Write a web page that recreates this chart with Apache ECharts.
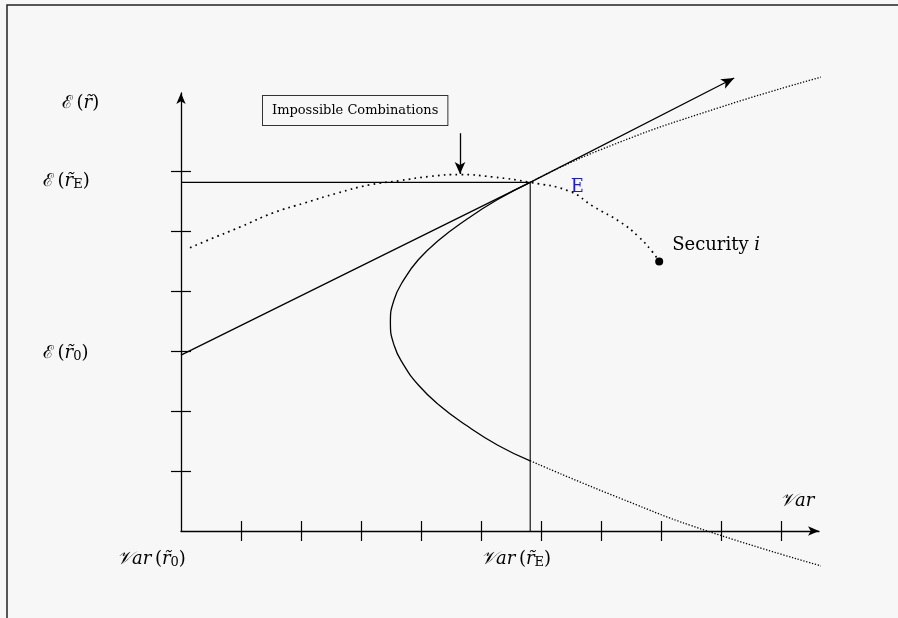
<!DOCTYPE html>
<html>
<head>
<meta charset="utf-8">
<title>Efficient frontier</title>
<script src="https://cdn.jsdelivr.net/npm/echarts@6/dist/echarts.min.js"></script>
<style>
  html, body { margin: 0; padding: 0; background: #f7f7f7; }
  #chart { width: 898px; height: 618px; }
</style>
</head>
<body>
<div id="chart"></div>
<script>
// axis ticks (one unit = one tick step)
var xTicks = [1, 2, 3, 4, 5, 6, 7, 8, 9, 10];
var yTicks = [1, 2, 3, 4, 5, 6];

// frontier, solid part (from E round the vertex and down)
var frontX = [5.82, 5.27, 4.74, 4.30, 3.955, 3.71, 3.55, 3.49, 3.55, 3.71, 3.96, 4.30, 4.74, 5.28, 5.82];
var frontY = [5.81, 5.52, 5.18, 4.85, 4.52, 4.18, 3.85, 3.48, 3.10, 2.77, 2.43, 2.10, 1.77, 1.43, 1.17];
// frontier, dotted upper continuation past E
var upperX = [5.82, 6.98, 8.98, 10.98];
var upperY = [5.81, 6.35, 7.06, 7.65];
// frontier, dotted lower continuation
var lowerX = [5.82, 7.32, 8.77, 10.98];
var lowerY = [1.17, 0.545, 0.0, -0.67];

// combinations of E and security i (dotted)
var comboX = [0.15, 0.43, 0.995, 1.53, 2.07, 2.60, 3.15, 3.65, 4.15, 4.65, 5.20, 5.82, 6.48, 6.87, 7.32, 7.62, 7.85, 7.97];
var comboY = [4.72, 4.84, 5.07, 5.30, 5.47, 5.63, 5.77, 5.84, 5.91, 5.94, 5.90, 5.81, 5.66, 5.41, 5.15, 4.91, 4.66, 4.49];

// tangent line from E(r0) through E
var tangentX = [0, 5.82, 9.22];
var tangentY = [2.93, 5.81, 7.55];

var pointE = [5.82, 5.81];
var security = [7.97, 4.49];
var arrowImpossible = [[4.65, 6.63], [4.65, 5.95]];

function zip(xs, ys) {
  var out = [];
  for (var i = 0; i < xs.length; i++) out.push([xs[i], ys[i]]);
  return out;
}

var serif = 'DejaVu Serif';
var mathRich = {
  n: { fontFamily: serif, fontSize: 18, color: '#000' },
  i: { fontFamily: serif, fontSize: 18, fontStyle: 'italic', color: '#000' },
  s: { fontFamily: serif, fontSize: 13, color: '#000', padding: [8, 0, 0, 0] },
  b: { fontFamily: serif, fontSize: 13, color: '#1a1adf', padding: [8, 0, 0, 0] }
};

function mathText(left, top, text) {
  return {
    type: 'text', left: left, top: top, silent: true,
    style: { text: text, rich: mathRich, fill: '#000' }
  };
}

var chart = echarts.init(document.getElementById('chart'));
var axisMax = { x: 638 / 60, y: 438 / 60 };
var black = '#000';

var option = {
  backgroundColor: '#f7f7f7',
  animation: false,
  grid: { left: 181, top: 93, width: 638, height: 438, outerBoundsMode: 'none' },
  xAxis: [{
    type: 'value', min: 0, max: axisMax.x,
    axisLine: { show: true, onZero: false, symbol: ['none', 'arrow'], symbolSize: [7, 11], lineStyle: { color: black, width: 1.3 } },
    axisTick: { show: false }, axisLabel: { show: false }, splitLine: { show: false }
  }, {
    type: 'value', min: 0, max: axisMax.x, position: 'bottom', offset: -10,
    axisLine: { show: false, onZero: false },
    axisTick: { show: true, length: 20, customValues: xTicks, lineStyle: { color: black, width: 1.2 } },
    axisLabel: { show: false }, splitLine: { show: false }
  }],
  yAxis: [{
    type: 'value', min: 0, max: axisMax.y,
    axisLine: { show: true, onZero: false, symbol: ['none', 'arrow'], symbolSize: [7, 11], lineStyle: { color: black, width: 1.3 } },
    axisTick: { show: false }, axisLabel: { show: false }, splitLine: { show: false }
  }, {
    type: 'value', min: 0, max: axisMax.y, position: 'left', offset: -10,
    axisLine: { show: false, onZero: false },
    axisTick: { show: true, length: 20, customValues: yTicks, lineStyle: { color: black, width: 1.2 } },
    axisLabel: { show: false }, splitLine: { show: false }
  }],
  series: [{
    name: 'frontier', type: 'line', clip: false, smooth: true, symbol: 'none',
    data: zip(frontX, frontY),
    lineStyle: { color: black, width: 1.3 }
  }, {
    name: 'frontier upper', type: 'line', clip: false, smooth: true, symbol: 'none',
    data: zip(upperX, upperY),
    lineStyle: { color: black, width: 1.3, type: [1.3, 1.7] }
  }, {
    name: 'frontier lower', type: 'line', clip: false, smooth: true, symbol: 'none',
    data: zip(lowerX, lowerY),
    lineStyle: { color: black, width: 1.3, type: [1.3, 1.7] }
  }, {
    name: 'combinations', type: 'line', clip: false, smooth: true, symbol: 'none',
    data: zip(comboX, comboY),
    lineStyle: { color: black, width: 1.7, type: [1.7, 4.2] }
  }, {
    name: 'tangent', type: 'line', clip: false, symbol: 'none',
    data: zip(tangentX, tangentY),
    lineStyle: { color: black, width: 1.3 }
  }, {
    name: 'tangent head', type: 'scatter', clip: false, symbol: 'arrow',
    symbolSize: [8, 13], symbolRotate: -63,
    data: [[tangentX[2], tangentY[2]]],
    itemStyle: { color: black, opacity: 1 }
  }, {
    name: 'guides', type: 'line', clip: false, symbol: 'none',
    data: [[0, pointE[1]], pointE, [pointE[0], 0]],
    lineStyle: { color: black, width: 1.1 },
    markLine: {
      silent: true, symbol: ['none', 'arrow'], symbolSize: [8, 12],
      label: { show: false },
      lineStyle: { color: black, width: 1.3, type: 'solid' },
      data: [[{ coord: arrowImpossible[0] }, { coord: arrowImpossible[1] }]]
    }
  }, {
    name: 'E', type: 'scatter', clip: false, symbol: 'emptyCircle', symbolSize: 9,
    data: [pointE],
    itemStyle: { color: '#f7f7f7', borderColor: black, borderWidth: 1, opacity: 1 },
    label: {
      show: true, position: 'right', distance: 35, offset: [0, 5],
      formatter: 'E', fontFamily: serif, fontSize: 18, color: '#1a1adf'
    }
  }, {
    name: 'security', type: 'scatter', clip: false, symbol: 'circle', symbolSize: 8,
    data: [security],
    itemStyle: { color: '#000', opacity: 1 },
    label: {
      show: true, position: 'right', distance: 9, offset: [0, -16],
      formatter: '{n|Security }{i|i}',
      rich: mathRich
    }
  }],
  graphic: [
    {
      type: 'rect', silent: true, z: -1,
      shape: { x: 7, y: 5, width: 900, height: 620 },
      style: { fill: null, stroke: '#222', lineWidth: 1.5 }
    },
    mathText(62, 94, '{n|ℰ\u2009(}{i|r̃}{n|)}'),
    mathText(43, 172, '{n|ℰ\u2009(}{i|r̃}{b|E}{n|)}'),
    mathText(43, 344, '{n|ℰ\u2009(}{i|r̃}{s|0}{n|)}'),
    mathText(117, 550, '{i|𝒱ar}{n|\u2009(}{i|r̃}{s|0}{n|)}'),
    mathText(481, 550, '{i|𝒱ar}{n|\u2009(}{i|r̃}{b|E}{n|)}'),
    mathText(780, 492, '{i|𝒱ar}'),
    {
      type: 'text', left: 262, top: 95, silent: true,
      style: {
        text: 'Impossible Combinations', fontFamily: serif, fontSize: 13, fill: '#000',
        backgroundColor: '#f7f7f7', borderColor: '#333', borderWidth: 1, padding: [8, 9, 8, 9]
      }
    }
  ]
};

chart.setOption(option);
</script>
</body>
</html>
